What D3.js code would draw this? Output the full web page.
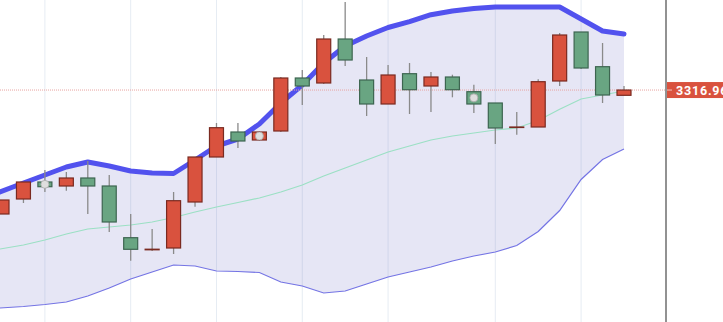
<!DOCTYPE html>
<html>
    <head>
        <script src="https://cdn.jsdelivr.net/npm/d3@7"></script>
        <style>
            body { margin: 0; background: #fff; }
            .chart { display: block; }
            .chart text { font: bold 12.5px Roboto, sans-serif; }
        </style>
    </head>
    <body>
        <svg class="chart" width="723" height="322"></svg>
        <script>
            // candles, one per trading session (index = session)
            var opens  = [3193, 3208, 3225, 3221, 3229, 3221, 3169.3, 3157.2, 3159, 3205, 3250, 3275, 3267, 3276, 3329,
                          3324, 3368, 3327, 3303, 3333.3, 3321, 3330, 3315.3, 3304, 3279.6, 3280, 3326, 3375, 3340.3, 3311.7];
            var closes = [3207, 3225, 3220.3, 3229, 3221, 3185, 3157.7, 3157.8, 3206.3, 3250, 3279.3, 3266, 3275, 3329, 3321,
                          3368, 3347, 3303, 3332, 3317.3, 3330, 3317.3, 3303, 3279, 3280, 3325.3, 3372, 3339, 3312, 3316.96];
            var highs  = [3207, 3225, 3237, 3235, 3246, 3232, 3193, 3178, 3215, 3250, 3284, 3284, 3276, 3330, 3337,
                          3372, 3405, 3350, 3342, 3344, 3335, 3332.3, 3322.3, 3304, 3295, 3327.7, 3374, 3375, 3364, 3321];
            var lows   = [3193, 3204, 3215, 3216.3, 3193, 3175, 3146.3, 3156, 3153, 3200.3, 3250, 3259, 3266, 3275, 3302,
                          3323, 3341, 3291, 3303, 3293, 3295, 3309.7, 3294, 3263, 3272.3, 3280, 3321, 3338, 3304, 3311.7];
            var markers = [2, 12, 22];   // sessions flagged with a dot

            // bollinger bands
            var upperBand = [3215, 3224, 3232, 3240, 3245, 3241, 3236, 3234, 3233.5, 3247, 3261, 3268, 3283, 3304, 3322,
                             3344, 3361, 3371, 3379.5, 3385.3, 3392.3, 3396, 3398.5, 3400, 3400, 3400, 3400, 3388, 3376, 3373];
            var midBand   = [3158, 3162, 3167, 3173, 3178, 3180, 3182, 3185, 3189.5, 3195, 3200, 3204.5, 3209, 3215, 3222,
                             3231, 3239, 3247, 3255, 3261, 3267, 3271, 3274, 3277, 3279, 3286.5, 3297.7, 3308, 3312, 3316];
            var lowerBand = [3099, 3100.5, 3102.5, 3105, 3111, 3119, 3128, 3135, 3142, 3141, 3136, 3135.5, 3134.5, 3125, 3121,
                             3114, 3116, 3123, 3130, 3135, 3140, 3146, 3151, 3155, 3161.5, 3175.5, 3196.5, 3227.5, 3247.5, 3258];

            var gridTicks = [2, 6, 10, 14, 18, 23, 27];
            var lastPrice = 3316.96;

            var width = 723, height = 322, axisX = 666;
            var candleW = 14;

            var svg = d3.select('svg');

            var x = d3.scaleLinear().domain([0, opens.length - 1]).range([2, 624]);
            var y = d3.scaleLinear().domain([3085, 3407]).range([height, 0]);

            var idx = d3.range(opens.length);

            // vertical grid
            svg.append("g").selectAll("line").data(gridTicks)
                .enter().append("line")
                .attr("x1", function(d){ return x(d); })
                .attr("x2", function(d){ return x(d); })
                .attr("y1", 0).attr("y2", height)
                .attr("stroke", "#e6ecf3").attr("stroke-width", 1);

            // band fill (first point stretched to the left edge)
            var xb = function(i){ return i === 0 ? 0 : x(i); };
            var area = d3.area()
                .x(xb)
                .y0(function(i){ return y(lowerBand[i]); })
                .y1(function(i){ return y(upperBand[i]); });
            svg.append("path").datum(idx)
                .attr("d", area)
                .attr("fill", "rgba(115,115,200,0.18)");

            function bandLine(arr){
                return d3.line()
                    .x(xb)
                    .y(function(i){ return y(arr[i]); })(idx);
            }

            svg.append("path").attr("d", bandLine(midBand))
                .attr("fill", "none").attr("stroke", "#9be0c4").attr("stroke-width", 1.2);
            svg.append("path").attr("d", bandLine(lowerBand))
                .attr("fill", "none").attr("stroke", "#7474e4").attr("stroke-width", 1.2);
            svg.append("path").attr("d", bandLine(upperBand))
                .attr("fill", "none").attr("stroke", "#5252ee").attr("stroke-width", 5)
                .attr("stroke-linejoin", "round").attr("stroke-linecap", "round");

            // last price line
            svg.append("line")
                .attr("x1", 0).attr("x2", axisX)
                .attr("y1", y(lastPrice)).attr("y2", y(lastPrice))
                .attr("stroke", "#e8a4a0").attr("stroke-width", 1)
                .attr("stroke-dasharray", "1,1");

            // candles
            var candles = svg.append("g").selectAll("g").data(idx)
                .enter().append("g");

            candles.append("line")
                .attr("x1", function(i){ return x(i); })
                .attr("x2", function(i){ return x(i); })
                .attr("y1", function(i){ return y(highs[i]); })
                .attr("y2", function(i){ return y(lows[i]); })
                .attr("stroke", "#8a8a8a").attr("stroke-width", 1.3);

            candles.append("rect")
                .attr("x", function(i){ return x(i) - candleW / 2; })
                .attr("width", candleW)
                .attr("y", function(i){ return y(Math.max(opens[i], closes[i])); })
                .attr("height", function(i){ return Math.max(0.5, Math.abs(y(opens[i]) - y(closes[i]))); })
                .attr("fill", function(i){ return closes[i] >= opens[i] ? "#d9523e" : "#69a582"; })
                .attr("stroke", function(i){ return closes[i] >= opens[i] ? "#7a2a20" : "#3d6550"; })
                .attr("stroke-width", 1.2);

            svg.append("g").selectAll("circle").data(markers)
                .enter().append("circle")
                .attr("cx", function(i){ return x(i); })
                .attr("cy", function(i){ return y((opens[i] + closes[i]) / 2); })
                .attr("r", 4)
                .attr("fill", "#dedede").attr("stroke", "#a8a8a8").attr("stroke-width", 0.8);

            // right axis
            svg.append("line")
                .attr("x1", axisX).attr("x2", axisX)
                .attr("y1", 0).attr("y2", height)
                .attr("stroke", "#6e6e6e").attr("stroke-width", 1.5);

            var py = y(lastPrice);
            svg.append("rect")
                .attr("x", axisX + 1).attr("y", py - 8)
                .attr("width", width - axisX).attr("height", 16)
                .attr("fill", "#d9523e");
            svg.append("line")
                .attr("x1", axisX + 1).attr("x2", axisX + 6)
                .attr("y1", py).attr("y2", py)
                .attr("stroke", "#f2c4bc").attr("stroke-width", 1);
            svg.append("text")
                .attr("x", axisX + 10).attr("y", py + 4.5)
                .attr("fill", "#fff")
                .style("letter-spacing", "0.8px")
                .text(lastPrice.toFixed(2));
        </script>
    </body>
</html>
